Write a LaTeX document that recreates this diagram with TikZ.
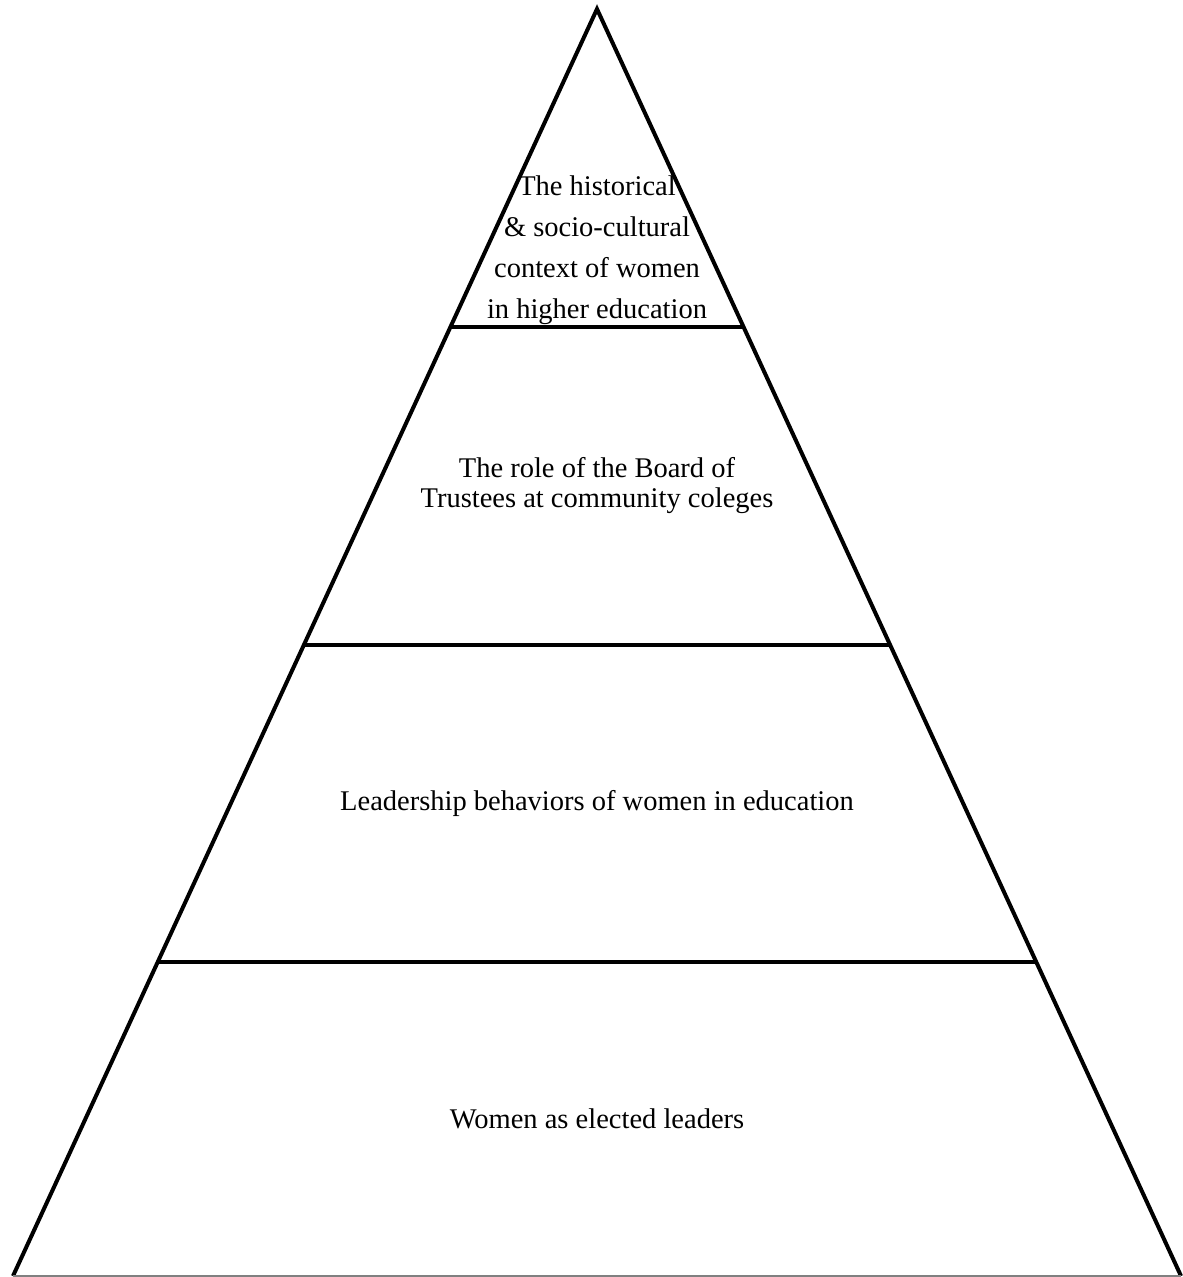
\documentclass[tikz,border=0pt]{standalone}
\usepackage{fontspec}
\setmainfont{Liberation Serif}
\begin{document}
\begin{tikzpicture}[x=1pt,y=-1pt,
  edge/.style={line width=4pt,line join=miter},
  lbl/.style={align=center,font=\fontsize{28.5}{30}\selectfont,inner sep=0pt}]
\useasboundingbox (0,0) rectangle (1183,1277);
\coordinate (apex) at (597,9);
\coordinate (bl) at (13,1276);
\coordinate (br) at (1181,1276);
\coordinate (l1) at (450,327);
\coordinate (r1) at (744,327);
\coordinate (l2) at (304,645);
\coordinate (r2) at (890,645);
\coordinate (l3) at (157,962);
\coordinate (r3) at (1036,962);
\draw[edge] (bl) -- (apex) -- (br);
\draw[gray,line width=1.5pt] (bl) -- (br);
\draw[edge] (l1) -- (r1);
\draw[edge] (l2) -- (r2);
\draw[edge] (l3) -- (r3);
\node[lbl,font=\fontsize{28.5}{41}\selectfont] (t1) at (597,250) {The historical\\\& socio-cultural\\context of women\\in higher education};
\node[lbl] (t2) at (597,486) {The role of the Board of\\Trustees at community coleges};
\node[lbl] (t3) at (597,803) {Leadership behaviors of women in education};
\node[lbl] (t4) at (597,1119) {Women as elected leaders};
\end{tikzpicture}
\end{document}
